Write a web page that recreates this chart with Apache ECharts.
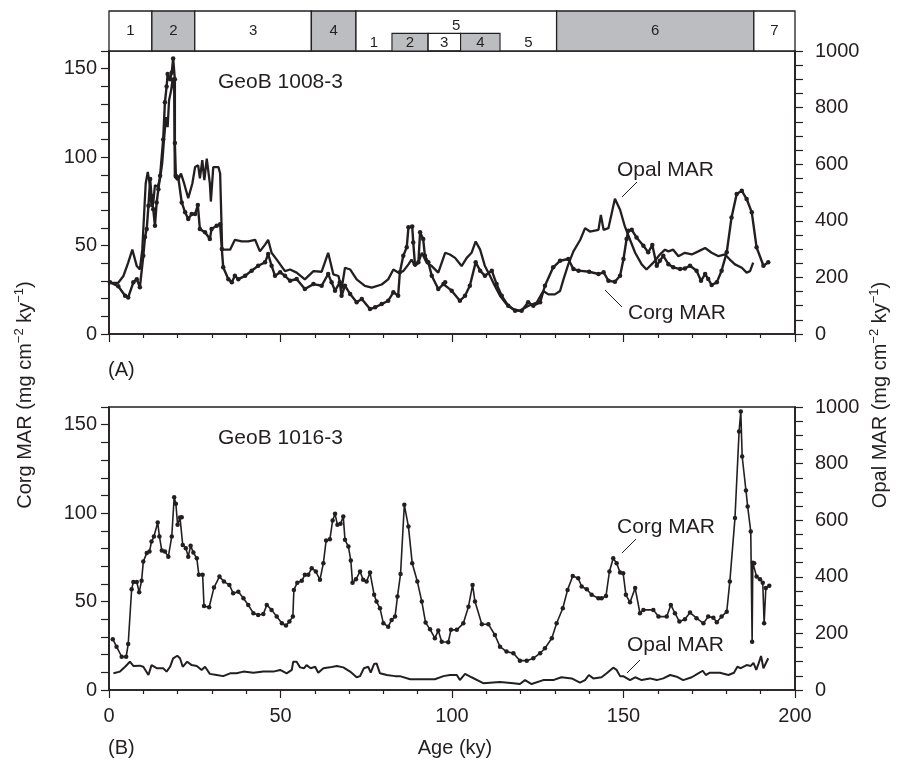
<!DOCTYPE html>
<html>
<head>
<meta charset="utf-8">
<script src="https://cdn.jsdelivr.net/npm/echarts@6/dist/echarts.min.js"></script>
<style>
  html, body { margin: 0; background: #fff; }
  #chart { width: 903px; height: 764px; }
</style>
</head>
<body>
<div id="chart"></div>
<script>
'use strict';

// isotope stages (ky)
const stageNames = ['1', '2', '3', '4', '5', '6', '7'];
const stageStart = [0, 12.5, 25, 59, 72, 130.5, 188];
const stageEnd = [12.5, 25, 59, 72, 130.5, 188, 200];
const subNames = ['1', '2', '3', '4', '5'];
const subStart = [72, 82.5, 93, 102.5, 114];
const subEnd = [82.5, 93, 102.5, 114, 130.5];

const corgTicks = [0, 50, 100, 150];
const opalTicks = [0, 200, 400, 600, 800, 1000];

// GeoB 1008-3, [age ky, value]
const corgA = [[0.3,29.2],[2.7,27],[4.7,21.6],[5.6,20.7],[7.1,29.2],[8.1,31],[9.0,26.4],[10.0,44.2],[10.5,54.8],[11,59.3],[11.5,72.5],[12,87.6],[12.4,78],[12.9,70.6],[13.4,61.2],[13.9,74.4],[14.4,81.9],[14.9,89.4],[15.8,110],[16.3,131],[16.8,140],[17.1,147],[17.8,144],[18.3,147.8],[18.7,155.8],[19.2,144],[19.2,108],[19.5,89.4],[20.2,88.5],[21.2,74.4],[22.2,68.8],[23.1,65],[24.1,67.8],[25.1,67.8],[25.9,72.9],[26.5,59.3],[28,57.5],[29.4,53.7],[29.9,59.3],[31.4,61.2],[32.4,62.1],[32.9,48],[33.3,37.7],[34.8,31],[35.8,29.2],[36.7,32.9],[37.7,31],[39.7,32.9],[41.6,35.8],[43.5,38.6],[45.5,40.5],[46.4,45.2],[47.4,38.6],[48.4,32.9],[49.9,34.9],[51.3,32.9],[52.8,30.1],[54.7,31.1],[57.1,25.4],[59.6,28.2],[62,27.3],[63.9,33.9],[64.9,29.2],[65.9,24.5],[67.3,29.2],[67.8,21.6],[68.8,27.3],[70.3,22.6],[72.2,17.9],[73.7,19.8],[76.1,14.1],[77.6,15.1],[79.5,16.9],[81.4,18.8],[82.9,23.6],[84.3,21.6],[84.8,34.9],[85.8,44.2],[86.8,49],[87.3,60.3],[88.4,60.8],[88.7,51.8],[89.2,39.5],[90.2,40.5],[90.7,57.5],[91.6,53.7],[92.1,44.2],[93.1,40.5],[94.1,32.9],[96,25.4],[97.5,28.2],[98,29.2],[99.9,24.5],[102.3,18.8],[103.8,21.6],[105.2,27.3],[106.9,40.5],[108.2,35.8],[109.6,32.9],[111.6,35.8],[113,28.2],[114.5,21.6],[116.4,16],[118.4,13.2],[120.3,13.2],[122.2,17.9],[123.7,16],[125.7,17.9],[127.1,27.3],[129.5,37.7],[131.5,41.4],[133.9,42.4],[135.4,36.7],[136.9,35.8],[140,35.2],[142.7,33.9],[144.2,34.9],[145.6,30.1],[147.5,29.5],[149,32.9],[150,42.4],[150.9,53.7],[151.4,58.4],[152.4,58.9],[153.8,54.6],[155.8,49.9],[157.2,46.2],[158.4,50.3],[159.7,38.6],[160.6,41.4],[161.6,44.2],[163.1,39.5],[164.5,37.7],[166.5,36.7],[167.9,37.1],[169.4,38.6],[171.3,35.8],[172.6,30.1],[173.8,33.9],[174.7,31.1],[175.7,27.7],[177.2,29.2],[178.6,35.8],[180.1,46.2],[181.5,65.9],[183,79.1],[184.5,81],[185.9,76.3],[187.4,68.8],[188.8,49],[190.8,38.6],[192.2,40.5]];
const opalA = [[0.3,181],[2.7,181],[4.2,205],[5.6,252],[6.8,298],[8.1,240],[9.0,228],[9.7,298],[10.3,439],[10.7,532],[11.3,573],[12,520],[12.4,450],[12.9,462],[13.4,526],[14.2,520],[14.9,550],[15.5,602],[16.1,696],[16.6,766],[17.1,731],[17.5,825],[18.1,860],[18.6,906],[19,860],[19.2,555],[20,544],[21,567],[21.9,532],[23.1,480],[24.3,532],[25.1,590],[26,596],[26.5,550],[27.2,614],[27.8,544],[28.5,620],[29.4,532],[29.7,468],[30.4,590],[31.9,590],[32.4,567],[33,298],[34.3,298],[35.3,298],[36.7,333],[38.7,327],[40.6,327],[42.6,333],[44,292],[45.5,316],[46.4,333],[47.4,287],[48.9,263],[49.4,263],[51.3,222],[52.8,228],[54.7,217],[57.1,193],[59.6,222],[62,220],[63.9,287],[65.4,211],[66.9,205],[67.8,158],[68.8,234],[70.3,228],[72.2,193],[74.6,170],[76.6,164],[79.5,175],[81.4,193],[82.9,228],[84.3,217],[85.8,222],[87.3,246],[88.2,263],[89.2,240],[90.2,252],[91.2,287],[92.6,252],[94.1,240],[96,217],[98,287],[99.4,281],[100.9,269],[102.8,240],[104.3,269],[105.7,287],[106.9,327],[108.2,298],[109.6,240],[111.1,205],[112.5,170],[114,135],[115.9,105],[117.9,88],[119.8,82],[122.2,99],[124.7,111],[126.6,152],[128.1,140],[130,140],[131.5,152],[132.5,193],[133.9,246],[135.4,292],[137.4,333],[138.8,374],[140.2,362],[142.7,368],[143.4,421],[144.2,368],[145.6,374],[147.5,478],[149,439],[150.4,380],[151.9,333],[153.4,287],[155.3,246],[156.7,228],[158.7,252],[160.6,281],[162.1,298],[163.1,292],[164.5,298],[166,275],[167.9,287],[169.9,281],[171.8,292],[173.8,304],[175.7,287],[177.7,275],[179.6,281],[181,263],[182.5,246],[184.5,234],[185.9,217],[186.9,222],[187.8,252]];

// GeoB 1016-3
const corgB = [[1.1,28.7],[2.2,24.5],[3.7,18.8],[5,18.8],[5.6,26],[6.6,57],[7.1,61],[8.1,61],[8.8,55.3],[9.5,61.7],[10,72.6],[11,77.4],[11.8,78.3],[12.4,83.9],[13.1,86.8],[14.2,94.7],[14.7,86.8],[15.4,78.8],[16.3,78.3],[17.3,75.4],[18.3,86.8],[19,109],[19.5,105.3],[20,93.4],[20.7,97.5],[21.2,97.7],[21.5,82],[22.4,80.2],[23.1,75.4],[23.8,81.5],[24.6,77.7],[25.6,74.5],[26.2,65.1],[27.3,65.1],[27.7,47.5],[29.2,46.8],[30.6,57.9],[32.2,64.1],[33.5,61.3],[35.1,59.4],[36.2,54.7],[37.7,55.6],[39.2,51.9],[40.6,48.1],[42.1,43.4],[43.5,42.4],[45,43],[46,48.1],[47.4,45.3],[48.9,41.5],[50.4,37.7],[51.6,36.4],[52.6,38.7],[53.6,41.5],[53.9,56.6],[54.9,60.7],[56.2,61.7],[57.1,65.1],[58.1,65.1],[59.1,68.9],[60.3,67],[61.5,62.3],[62.5,71.7],[63.3,84.5],[64.4,85.3],[65.2,95.8],[65.9,99.6],[66.6,93.4],[67.5,94],[68.3,98.1],[68.8,84.9],[69.8,81.1],[70.5,73.2],[71,60.7],[72,62.6],[73.2,67],[74.1,62.3],[75.1,61.3],[76.1,66.4],[77.3,53.8],[78,50],[79,46.2],[80,37.7],[81.4,35.8],[82.4,39.6],[83.4,41.5],[84.1,52.8],[85,65.6],[86.1,104.7],[87.3,92.4],[88.4,71.7],[89.9,61.3],[91.2,50],[92.3,38.1],[93.6,34.3],[95,29.3],[96,33.6],[97,27.3],[98.9,27],[99.7,34],[101.4,34],[103.3,37.7],[104.8,47.1],[106,59.4],[106.7,50],[108.7,37.2],[110.6,37.2],[112.5,31.1],[114,24.5],[115.9,21.7],[117.9,20.8],[119.8,16.6],[121.8,16.6],[123.7,17.9],[125.7,20.8],[127.1,23.6],[129.1,29.3],[130.5,37.7],[132.3,46.2],[133.7,56.6],[135.2,64.5],[136.8,63.2],[137.8,58.5],[139.3,57],[140.7,53.8],[142.7,51.9],[143.6,51.9],[144.9,53.2],[145.9,67],[147,74.5],[148,71.7],[149,66.4],[149.9,66],[150.7,53.8],[151.9,49.6],[153.4,57.6],[154.8,43.4],[155.8,45.3],[158.7,45.3],[160.2,41.5],[162.6,41.5],[163.8,48.1],[165,43.4],[166.3,38.7],[167.9,40],[169.4,43.8],[171.3,40.6],[173.3,37.7],[174.7,41.5],[176.2,40.9],[177.2,38.3],[178.6,41.5],[180.1,44.3],[181,61.3],[182.5,97.2],[183.7,146.2],[184.2,157.5],[184.6,132],[185.7,112.8],[186.2,103.7],[187.1,89.6],[187.5,27.3],[187.7,72],[188.1,71.7],[188.8,64.1],[189.8,62.6],[190.6,60.7],[191,37.7],[191.5,57.6],[192.5,58.9]];
const opalB = [[1.3,59],[3.2,65],[4.7,82],[6.1,100],[7.1,85],[9,86],[10,82],[11.5,53],[12.4,88],[13.9,77],[15.8,77],[16.8,65],[17.8,82],[18.7,112],[19.9,121],[20.7,112],[21.5,82],[22.8,100],[24.1,88],[25.6,85],[27,71],[28,82],[29.4,57],[31.4,53],[33.3,49],[35.3,59],[37.2,59],[39.2,65],[42.1,61],[45,65],[47.9,65],[49.9,71],[51.8,59],[53.3,71],[53.7,100],[54.7,100],[55.7,80],[56.9,77],[57.6,88],[58.8,77],[60.1,82],[61,61],[62.5,77],[64.4,80],[66.4,85],[68.3,80],[70.3,65],[72.2,45],[73.2,49],[74.3,77],[75.6,82],[76.3,61],[77.3,92],[78,94],[79,59],[81,53],[83.4,49],[84.8,49],[87.8,38],[91.6,38],[95,38],[97.5,49],[99.4,53],[101.4,53],[102.3,35],[103.8,57],[105.7,45],[109.1,24],[114,28],[117.9,24],[119.8,21],[121.3,35],[123.2,21],[126.6,35],[129.5,35],[131.9,45],[134.9,41],[137.3,26],[138.8,35],[139.9,53],[141.2,41],[143.6,45],[145.1,59],[147,79],[148,71],[149,49],[149.9,49],[151.9,35],[153.4,45],[155.3,35],[157.7,41],[159.7,35],[161.6,41],[163.6,53],[165.5,47],[167.4,35],[169.9,45],[171.8,59],[173.1,68],[174,53],[175.2,61],[178.1,61],[180.6,53],[182.2,61],[183.2,82],[184.2,77],[185.9,88],[187.1,85],[187.9,96],[188.7,71],[189.4,94],[190.1,120],[190.8,77],[192.2,112]];

const ink = '#231f20';
const shade = '#bcbdc0';
const font = '"Liberation Sans", Arial, sans-serif';

const chart = echarts.init(document.getElementById('chart'));

function xAxisFor(gridIndex, labels) {
  return {
    type: 'value', gridIndex: gridIndex, min: 0, max: 200, interval: 50,
    axisLine: { onZero: false, lineStyle: { color: ink, width: 1.6 } },
    axisTick: { length: 8, lineStyle: { color: ink, width: 1.2 } },
    minorTick: { show: true, splitNumber: 5, length: 4, lineStyle: { color: ink, width: 1.2 } },
    axisLabel: { show: labels, color: ink, fontSize: 20, fontFamily: font, margin: 16 },
    splitLine: { show: false }
  };
}

function yAxisFor(gridIndex, side, max, step, shown) {
  return {
    type: 'value', gridIndex: gridIndex, position: side, min: 0, max: max, interval: step,
    axisLine: { show: true, onZero: false, lineStyle: { color: ink, width: 1.6 } },
    axisTick: { length: 8, lineStyle: { color: ink, width: 1.2 } },
    axisLabel: {
      color: ink, fontSize: 20, fontFamily: font, margin: side === 'left' ? 12 : 20,
      formatter: function (v) { return shown.indexOf(v) >= 0 ? String(v) : ''; }
    },
    splitLine: { show: false }
  };
}

function renderStage(params, api) {
  const i = api.value(2);
  const topLeft = api.coord([api.value(0), 1]);
  const botRight = api.coord([api.value(1), 0]);
  const hasSubs = stageNames[i] === '5';
  const mid = api.coord([(api.value(0) + api.value(1)) / 2, hasSubs ? 0.63 : 0.5]);
  return {
    type: 'group',
    children: [
      { type: 'rect',
        shape: { x: topLeft[0], y: topLeft[1], width: botRight[0] - topLeft[0], height: botRight[1] - topLeft[1] },
        style: { fill: (i % 2 === 1) ? shade : '#fff', stroke: ink, lineWidth: 1.3 } },
      { type: 'text',
        style: { text: stageNames[i], x: mid[0], y: mid[1], align: 'center', verticalAlign: 'middle',
                 fontSize: 15, fontFamily: font, fill: ink } }
    ]
  };
}

function renderSub(params, api) {
  const j = api.value(2);
  const topLeft = api.coord([api.value(0), 0.44]);
  const botRight = api.coord([api.value(1), 0]);
  const mid = api.coord([(api.value(0) + api.value(1)) / 2, 0.2]);
  const boxed = j > 0 && j < subNames.length - 1;
  return {
    type: 'group',
    children: [
      { type: 'rect',
        shape: { x: topLeft[0], y: topLeft[1], width: botRight[0] - topLeft[0], height: botRight[1] - topLeft[1] },
        style: { fill: (j % 2 === 1) ? shade : 'rgba(0,0,0,0)', stroke: boxed ? ink : null, lineWidth: 1.1 } },
      { type: 'text',
        style: { text: subNames[j], x: mid[0], y: mid[1], align: 'center', verticalAlign: 'middle',
                 fontSize: 15, fontFamily: font, fill: ink } }
    ]
  };
}

function axisTitle(x, y, head) {
  return {
    type: 'text', x: x, y: y, rotation: Math.PI / 2,
    style: {
      text: '{a|' + head + ' (mg cm}{s|\u22122}{a| ky}{s|\u22121}{a|)}',
      align: 'center', verticalAlign: 'middle',
      rich: {
        a: { fontSize: 20, fontFamily: font, fill: ink, lineHeight: 24 },
        s: { fontSize: 13, fontFamily: font, fill: ink, verticalAlign: 'top', lineHeight: 24 }
      }
    }
  };
}

function label(x, y, text) {
  return { type: 'text', x: x, y: y,
    style: { text: text, fontSize: 21, fontFamily: font, fill: ink, verticalAlign: 'middle' } };
}

function leader(x1, y1, x2, y2) {
  return { type: 'line', shape: { x1: x1, y1: y1, x2: x2, y2: y2 }, style: { stroke: ink, lineWidth: 1 } };
}

const option = {
  backgroundColor: '#fff',
  animation: false,
  grid: [
    { left: 109, width: 686, top: 51, height: 283, show: true, borderColor: ink, borderWidth: 1.6 },
    { left: 109, width: 686, top: 407, height: 283, show: true, borderColor: ink, borderWidth: 1.6 },
    { left: 109, width: 686, top: 11, height: 40 }
  ],
  xAxis: [
    xAxisFor(0, false),
    xAxisFor(1, true),
    { type: 'value', gridIndex: 2, min: 0, max: 200, show: false }
  ],
  yAxis: [
    yAxisFor(0, 'left', 160, 10, corgTicks),
    yAxisFor(0, 'right', 1000, 50, opalTicks),
    yAxisFor(1, 'left', 160, 10, corgTicks),
    yAxisFor(1, 'right', 1000, 50, opalTicks),
    { type: 'value', gridIndex: 2, min: 0, max: 1, show: false }
  ],
  series: [
    { type: 'custom', xAxisIndex: 2, yAxisIndex: 4, renderItem: renderStage,
      data: stageStart.map(function (s, i) { return [s, stageEnd[i], i]; }) },
    { type: 'custom', xAxisIndex: 2, yAxisIndex: 4, renderItem: renderSub,
      data: subStart.map(function (s, j) { return [s, subEnd[j], j]; }) },
    { name: 'Opal MAR A', type: 'line', xAxisIndex: 0, yAxisIndex: 1, data: opalA,
      showSymbol: false, lineStyle: { color: ink, width: 2.3 } },
    { name: 'Corg MAR A', type: 'line', xAxisIndex: 0, yAxisIndex: 0, data: corgA,
      symbol: 'circle', symbolSize: 4.5, itemStyle: { color: ink },
      lineStyle: { color: ink, width: 2.4 } },
    { name: 'Opal MAR B', type: 'line', xAxisIndex: 1, yAxisIndex: 3, data: opalB,
      showSymbol: false, lineStyle: { color: ink, width: 2 } },
    { name: 'Corg MAR B', type: 'line', xAxisIndex: 1, yAxisIndex: 2, data: corgB,
      symbol: 'circle', symbolSize: 4.5, itemStyle: { color: ink },
      lineStyle: { color: ink, width: 1.6 } }
  ],
  graphic: [
    label(218, 82, 'GeoB 1008-3'),
    label(218, 438, 'GeoB 1016-3'),
    label(617, 170, 'Opal MAR'),
    leader(637, 182, 622, 197),
    label(628, 313, 'Corg MAR'),
    leader(622, 307, 605, 290),
    label(617, 527, 'Corg MAR'),
    leader(636, 539, 622, 553),
    label(627, 645, 'Opal MAR'),
    leader(640, 660, 627, 673),
    { type: 'text', x: 108, y: 370, style: { text: '(A)', fontSize: 20, fontFamily: font, fill: ink, verticalAlign: 'middle' } },
    { type: 'text', x: 108, y: 748, style: { text: '(B)', fontSize: 20, fontFamily: font, fill: ink, verticalAlign: 'middle' } },
    { type: 'text', x: 455, y: 748, style: { text: 'Age (ky)', fontSize: 20, fontFamily: font, fill: ink, align: 'center', verticalAlign: 'middle' } },
    axisTitle(25, 395, 'Corg MAR'),
    axisTitle(880, 395, 'Opal MAR')
  ]
};

chart.setOption(option);
</script>
</body>
</html>
